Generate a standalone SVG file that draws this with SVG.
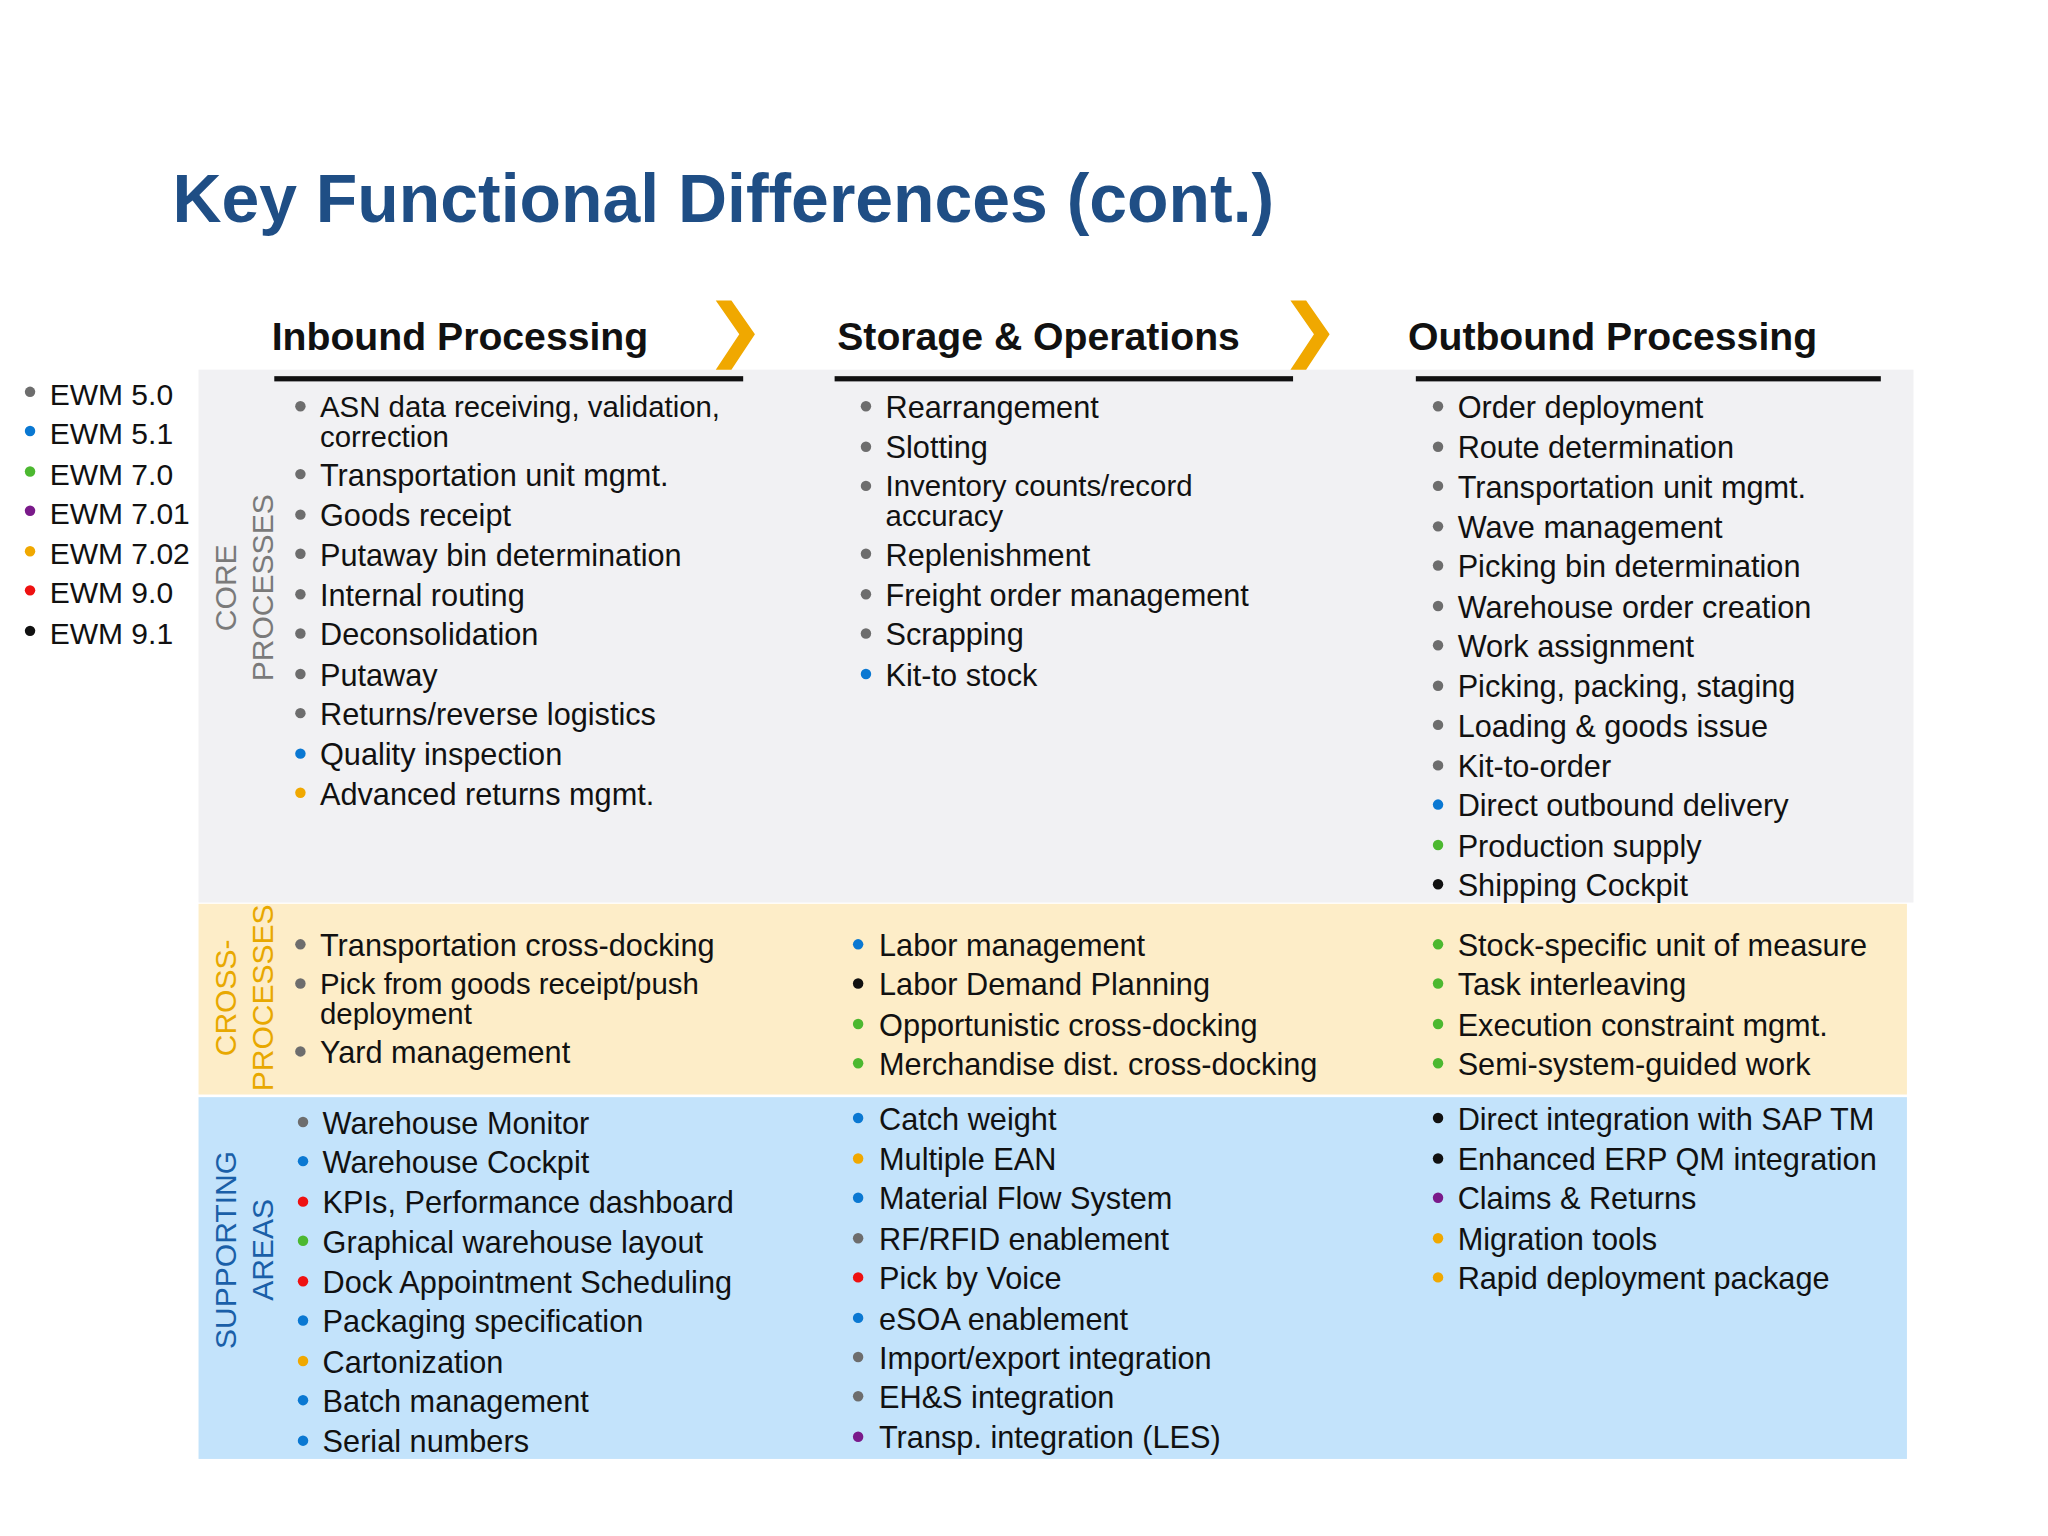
<svg xmlns="http://www.w3.org/2000/svg" width="2048" height="1536" viewBox="0 0 2048 1536">
<style>
text{font-family:"Liberation Sans",Arial,sans-serif}
.t{font-size:23.5px;fill:#111}
.w{font-size:22.5px}
.h{font-size:30px;font-weight:bold;fill:#111}
.lg{font-size:23px;fill:#111}
.g{fill:#6d6d6d}.b{fill:#0a78d2}.gr{fill:#4cb830}.p{fill:#7a1a8a}.o{fill:#f0a800}.r{fill:#ee1111}.k{fill:#111}
.side{font-size:23px}
</style>
<rect width="2048" height="1536" fill="#fff"/>
<g transform="scale(1.306122)">
<text x="132" y="170" font-size="52" font-weight="bold" fill="#1f4e85">Key Functional Differences (cont.)</text>
<g id="bands">
<rect x="152" y="283" width="1313" height="408" fill="#f1f1f3"/>
<rect x="152" y="692" width="1308" height="146" fill="#fdedc8"/>
<rect x="152" y="840" width="1308" height="277" fill="#c3e3fb"/>
</g>
<g id="headers">
<text class="h" x="208" y="268">Inbound Processing</text>
<text class="h" x="641" y="268">Storage &amp; Operations</text>
<text class="h" x="1078" y="268">Outbound Processing</text>
<rect x="210" y="288" width="359" height="4" fill="#111"/>
<rect x="639" y="288" width="351" height="4" fill="#111"/>
<rect x="1084" y="288" width="356" height="4" fill="#111"/>
<path d="M548 230 L566 256 L548 283 L560 283 L578 256 L560 230Z" fill="#f0a800"/>
<path d="M988 230 L1006 256 L988 283 L1000 283 L1018 256 L1000 230Z" fill="#f0a800"/>
</g>
<g id="legend">
<circle class="g" cx="23" cy="300" r="4"/><text class="lg" x="38" y="310">EWM 5.0</text>
<circle class="b" cx="23" cy="330" r="4"/><text class="lg" x="38" y="340">EWM 5.1</text>
<circle class="gr" cx="23" cy="361" r="4"/><text class="lg" x="38" y="371">EWM 7.0</text>
<circle class="p" cx="23" cy="391" r="4"/><text class="lg" x="38" y="401">EWM 7.01</text>
<circle class="o" cx="23" cy="422" r="4"/><text class="lg" x="38" y="432">EWM 7.02</text>
<circle class="r" cx="23" cy="452" r="4"/><text class="lg" x="38" y="462">EWM 9.0</text>
<circle class="k" cx="23" cy="483" r="4"/><text class="lg" x="38" y="493">EWM 9.1</text>
</g>
<g id="side-labels">
<text class="side" fill="#7a7a7a" text-anchor="middle" transform="translate(181,450) rotate(-90)">CORE</text>
<text class="side" fill="#7a7a7a" text-anchor="middle" transform="translate(209,450) rotate(-90)">PROCESSES</text>
<text class="side" fill="#e8a800" text-anchor="middle" transform="translate(181,764) rotate(-90)">CROSS-</text>
<text class="side" fill="#e8a800" text-anchor="middle" transform="translate(209,764) rotate(-90)">PROCESSES</text>
<text class="side" fill="#1a5fa8" text-anchor="middle" transform="translate(181,957) rotate(-90)">SUPPORTING</text>
<text class="side" fill="#1a5fa8" text-anchor="middle" transform="translate(209,957) rotate(-90)">AREAS</text>
</g>
<g id="core-inbound">
<circle class="g" cx="230" cy="311" r="4"/><text class="t w" x="245" y="319">ASN data receiving, validation,</text><text class="t w" x="245" y="342">correction</text>
<circle class="g" cx="230" cy="363" r="4"/><text class="t" x="245" y="372">Transportation unit mgmt.</text>
<circle class="g" cx="230" cy="394" r="4"/><text class="t" x="245" y="403">Goods receipt</text>
<circle class="g" cx="230" cy="424" r="4"/><text class="t" x="245" y="433">Putaway bin determination</text>
<circle class="g" cx="230" cy="455" r="4"/><text class="t" x="245" y="464">Internal routing</text>
<circle class="g" cx="230" cy="485" r="4"/><text class="t" x="245" y="494">Deconsolidation</text>
<circle class="g" cx="230" cy="516" r="4"/><text class="t" x="245" y="525">Putaway</text>
<circle class="g" cx="230" cy="546" r="4"/><text class="t" x="245" y="555">Returns/reverse logistics</text>
<circle class="b" cx="230" cy="577" r="4"/><text class="t" x="245" y="586">Quality inspection</text>
<circle class="o" cx="230" cy="607" r="4"/><text class="t" x="245" y="616">Advanced returns mgmt.</text>
</g>
<g id="core-storage">
<circle class="g" cx="663" cy="311" r="4"/><text class="t" x="678" y="320">Rearrangement</text>
<circle class="g" cx="663" cy="342" r="4"/><text class="t" x="678" y="351">Slotting</text>
<circle class="g" cx="663" cy="372" r="4"/><text class="t w" x="678" y="380">Inventory counts/record</text><text class="t w" x="678" y="403">accuracy</text>
<circle class="g" cx="663" cy="424" r="4"/><text class="t" x="678" y="433">Replenishment</text>
<circle class="g" cx="663" cy="455" r="4"/><text class="t" x="678" y="464">Freight order management</text>
<circle class="g" cx="663" cy="485" r="4"/><text class="t" x="678" y="494">Scrapping</text>
<circle class="b" cx="663" cy="516" r="4"/><text class="t" x="678" y="525">Kit-to stock</text>
</g>
<g id="core-outbound">
<circle class="g" cx="1101" cy="311" r="4"/><text class="t" x="1116" y="320">Order deployment</text>
<circle class="g" cx="1101" cy="342" r="4"/><text class="t" x="1116" y="351">Route determination</text>
<circle class="g" cx="1101" cy="372" r="4"/><text class="t" x="1116" y="381">Transportation unit mgmt.</text>
<circle class="g" cx="1101" cy="403" r="4"/><text class="t" x="1116" y="412">Wave management</text>
<circle class="g" cx="1101" cy="433" r="4"/><text class="t" x="1116" y="442">Picking bin determination</text>
<circle class="g" cx="1101" cy="464" r="4"/><text class="t" x="1116" y="473">Warehouse order creation</text>
<circle class="g" cx="1101" cy="494" r="4"/><text class="t" x="1116" y="503">Work assignment</text>
<circle class="g" cx="1101" cy="525" r="4"/><text class="t" x="1116" y="534">Picking, packing, staging</text>
<circle class="g" cx="1101" cy="555" r="4"/><text class="t" x="1116" y="564">Loading &amp; goods issue</text>
<circle class="g" cx="1101" cy="586" r="4"/><text class="t" x="1116" y="595">Kit-to-order</text>
<circle class="b" cx="1101" cy="616" r="4"/><text class="t" x="1116" y="625">Direct outbound delivery</text>
<circle class="gr" cx="1101" cy="647" r="4"/><text class="t" x="1116" y="656">Production supply</text>
<circle class="k" cx="1101" cy="677" r="4"/><text class="t" x="1116" y="686">Shipping Cockpit</text>
</g>
<g id="cross-inbound">
<circle class="g" cx="230" cy="723" r="4"/><text class="t" x="245" y="732">Transportation cross-docking</text>
<circle class="g" cx="230" cy="753" r="4"/><text class="t w" x="245" y="761">Pick from goods receipt/push</text><text class="t w" x="245" y="784">deployment</text>
<circle class="g" cx="230" cy="805" r="4"/><text class="t" x="245" y="814">Yard management</text>
</g>
<g id="cross-storage">
<circle class="b" cx="657" cy="723" r="4"/><text class="t" x="673" y="732">Labor management</text>
<circle class="k" cx="657" cy="753" r="4"/><text class="t" x="673" y="762">Labor Demand Planning</text>
<circle class="gr" cx="657" cy="784" r="4"/><text class="t" x="673" y="793">Opportunistic cross-docking</text>
<circle class="gr" cx="657" cy="814" r="4"/><text class="t" x="673" y="823">Merchandise dist. cross-docking</text>
</g>
<g id="cross-outbound">
<circle class="gr" cx="1101" cy="723" r="4"/><text class="t" x="1116" y="732">Stock-specific unit of measure</text>
<circle class="gr" cx="1101" cy="753" r="4"/><text class="t" x="1116" y="762">Task interleaving</text>
<circle class="gr" cx="1101" cy="784" r="4"/><text class="t" x="1116" y="793">Execution constraint mgmt.</text>
<circle class="gr" cx="1101" cy="814" r="4"/><text class="t" x="1116" y="823">Semi-system-guided work</text>
</g>
<g id="support-inbound">
<circle class="g" cx="232" cy="859" r="4"/><text class="t" x="247" y="868">Warehouse Monitor</text>
<circle class="b" cx="232" cy="889" r="4"/><text class="t" x="247" y="898">Warehouse Cockpit</text>
<circle class="r" cx="232" cy="920" r="4"/><text class="t" x="247" y="929">KPIs, Performance dashboard</text>
<circle class="gr" cx="232" cy="950" r="4"/><text class="t" x="247" y="959">Graphical warehouse layout</text>
<circle class="r" cx="232" cy="981" r="4"/><text class="t" x="247" y="990">Dock Appointment Scheduling</text>
<circle class="b" cx="232" cy="1011" r="4"/><text class="t" x="247" y="1020">Packaging specification</text>
<circle class="o" cx="232" cy="1042" r="4"/><text class="t" x="247" y="1051">Cartonization</text>
<circle class="b" cx="232" cy="1072" r="4"/><text class="t" x="247" y="1081">Batch management</text>
<circle class="b" cx="232" cy="1103" r="4"/><text class="t" x="247" y="1112">Serial numbers</text>
</g>
<g id="support-storage">
<circle class="b" cx="657" cy="856" r="4"/><text class="t" x="673" y="865">Catch weight</text>
<circle class="o" cx="657" cy="887" r="4"/><text class="t" x="673" y="896">Multiple EAN</text>
<circle class="b" cx="657" cy="917" r="4"/><text class="t" x="673" y="926">Material Flow System</text>
<circle class="g" cx="657" cy="948" r="4"/><text class="t" x="673" y="957">RF/RFID enablement</text>
<circle class="r" cx="657" cy="978" r="4"/><text class="t" x="673" y="987">Pick by Voice</text>
<circle class="b" cx="657" cy="1009" r="4"/><text class="t" x="673" y="1018">eSOA enablement</text>
<circle class="g" cx="657" cy="1039" r="4"/><text class="t" x="673" y="1048">Import/export integration</text>
<circle class="g" cx="657" cy="1069" r="4"/><text class="t" x="673" y="1078">EH&amp;S integration</text>
<circle class="p" cx="657" cy="1100" r="4"/><text class="t" x="673" y="1109">Transp. integration (LES)</text>
</g>
<g id="support-outbound">
<circle class="k" cx="1101" cy="856" r="4"/><text class="t" x="1116" y="865">Direct integration with SAP TM</text>
<circle class="k" cx="1101" cy="887" r="4"/><text class="t" x="1116" y="896">Enhanced ERP QM integration</text>
<circle class="p" cx="1101" cy="917" r="4"/><text class="t" x="1116" y="926">Claims &amp; Returns</text>
<circle class="o" cx="1101" cy="948" r="4"/><text class="t" x="1116" y="957">Migration tools</text>
<circle class="o" cx="1101" cy="978" r="4"/><text class="t" x="1116" y="987">Rapid deployment package</text>
</g>
<g id="connectors"/>
</g>
</svg>
